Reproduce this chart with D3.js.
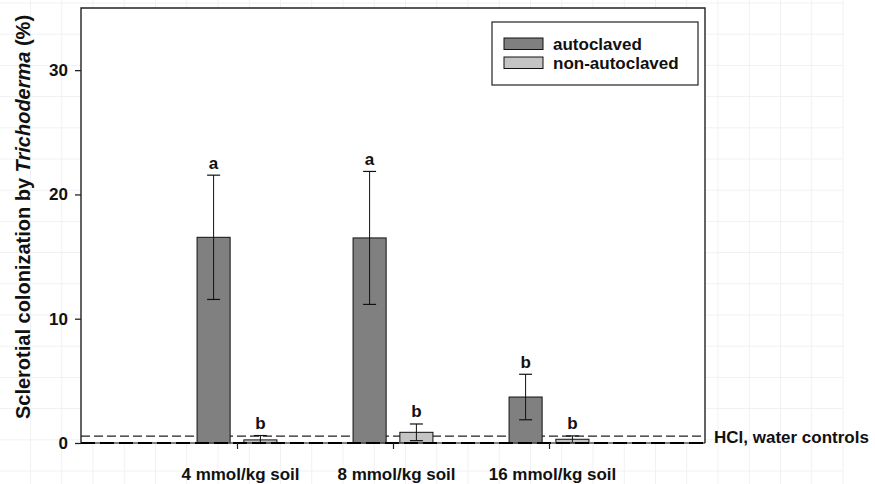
<!DOCTYPE html>
<html><head><meta charset="utf-8">
<script src="https://cdn.jsdelivr.net/npm/d3@7"></script>
<style>
html,body{margin:0;padding:0;background:#fff;}
svg{display:block;font-family:"Liberation Sans",Arial,sans-serif;}
</style></head>
<body>
<svg id="chart" width="875" height="484"></svg>
<script>
const categories = ["4 mmol/kg soil", "8 mmol/kg soil", "16 mmol/kg soil"];
const categoryPositions = [1, 2, 3];
const seriesNames = ["autoclaved", "non-autoclaved"];
const autoclaved = [16.55, 16.5, 3.7];
const autoclavedErr = [5.0, 5.35, 1.83];
const autoclavedLetters = ["a", "a", "b"];
const nonAutoclaved = [0.25, 0.86, 0.3];
const nonAutoclavedErr = [0.35, 0.67, 0.27];
const nonAutoclavedLetters = ["b", "b", "b"];
const yTicks = [0, 10, 20, 30];
const controlLevel = 0.55;
const controlLabel = "HCl, water controls";
const yLabelParts = ["Sclerotial colonization by ", "Trichoderma", " (%)"];

const W = 875, H = 484;
const L = 81, R = 705, T = 8, B = 443;
const svg = d3.select("#chart");

// faint background grid (spreadsheet look)
const bg = svg.append("g");
d3.range(30.5, 850, 31.25).forEach(gx => bg.append("line").attr("x1", gx).attr("x2", gx).attr("y1", 0).attr("y2", H).attr("stroke", "#f1f1f1"));
d3.range(3, H, 31.2).forEach(gy => bg.append("line").attr("x1", 0).attr("x2", 843).attr("y1", gy).attr("y2", gy).attr("stroke", "#f1f1f1"));

const x = d3.scaleLinear().domain([0, 4]).range([L, R]);
const y = d3.scaleLinear().domain([0, 35]).range([B, T]);
const unit = x(1) - x(0);
const barW = 0.212 * unit;
const off = 0.15 * unit;

svg.append("rect").attr("x", L).attr("y", T).attr("width", R - L).attr("height", B - T).attr("fill", "#fff");

const series = [
  {name: seriesNames[0], vals: autoclaved, err: autoclavedErr, letters: autoclavedLetters, fill: "#808080", dx: -off},
  {name: seriesNames[1], vals: nonAutoclaved, err: nonAutoclavedErr, letters: nonAutoclavedLetters, fill: "#c4c4c4", dx: off}
];

// control dashed line
svg.append("line").attr("x1", L).attr("x2", R).attr("y1", y(controlLevel)).attr("y2", y(controlLevel))
  .attr("stroke", "#222").attr("stroke-width", 1.2).attr("stroke-dasharray", "9,4");

series.forEach(s => {
  const g = svg.append("g");
  categoryPositions.forEach((p, i) => {
    const cx = x(p) + s.dx;
    g.append("rect").attr("x", cx - barW / 2).attr("y", y(s.vals[i]))
      .attr("width", barW).attr("height", y(0) - y(s.vals[i]))
      .attr("fill", s.fill).attr("stroke", "#111").attr("stroke-width", 1);
    const hi = s.vals[i] + s.err[i], lo = Math.max(0, s.vals[i] - s.err[i]);
    g.append("line").attr("x1", cx).attr("x2", cx).attr("y1", y(hi)).attr("y2", y(lo)).attr("stroke", "#111").attr("stroke-width", 1);
    g.append("line").attr("x1", cx - 6.5).attr("x2", cx + 6.5).attr("y1", y(hi)).attr("y2", y(hi)).attr("stroke", "#111").attr("stroke-width", 1.2);
    if (lo > 0) g.append("line").attr("x1", cx - 6.5).attr("x2", cx + 6.5).attr("y1", y(lo)).attr("y2", y(lo)).attr("stroke", "#111").attr("stroke-width", 1.2);
    g.append("text").attr("x", cx).attr("y", y(hi) - 6.5).attr("text-anchor", "middle")
      .attr("font-size", 17).attr("font-weight", "bold").attr("fill", "#111").text(s.letters[i]);
  });
});

// x axis baseline (solid + thick dashed overlay)
svg.append("line").attr("x1", L).attr("x2", R).attr("y1", y(0)).attr("y2", y(0)).attr("stroke", "#555").attr("stroke-width", 1.5);
svg.append("line").attr("x1", L).attr("x2", R).attr("y1", y(0)).attr("y2", y(0)).attr("stroke", "#000").attr("stroke-width", 2.2).attr("stroke-dasharray", "14,5");

// frame
svg.append("path").attr("d", `M${L},${B}V${T}H${R}V${B}`).attr("fill", "none").attr("stroke", "#222").attr("stroke-width", 1.4);

// y axis
const ya = svg.append("g").attr("transform", `translate(${L},0)`)
  .call(d3.axisLeft(y).tickValues(yTicks).tickSize(6).tickPadding(7).tickSizeOuter(0));
ya.select(".domain").remove();
ya.selectAll("line").attr("stroke", "#222").attr("stroke-width", 1.3);
ya.selectAll("text").attr("font-size", 17).attr("font-weight", "bold").attr("fill", "#111")
  .attr("font-family", "Liberation Sans, Arial, sans-serif");

// x axis
const xa = svg.append("g").attr("transform", `translate(0,${B})`)
  .call(d3.axisBottom(x).tickValues(categoryPositions).tickSize(6).tickSizeOuter(0)
    .tickFormat((d, i) => categories[i]));
xa.select(".domain").remove();
xa.selectAll("line").attr("stroke", "#222").attr("stroke-width", 1.2);
xa.selectAll("text").attr("font-size", 17).attr("font-weight", "bold").attr("fill", "#111")
  .attr("font-family", "Liberation Sans, Arial, sans-serif")
  .attr("y", 37).attr("dy", 0).attr("dx", 3);

// control label
svg.append("text").attr("x", 714).attr("y", y(controlLevel) + 6.5).attr("font-size", 17).attr("font-weight", "bold")
  .attr("fill", "#111").text(controlLabel);

// y label
const yl = svg.append("text").attr("transform", `translate(30,217) rotate(-90)`).attr("text-anchor", "middle")
  .attr("font-size", 20).attr("font-weight", "bold").attr("fill", "#111");
yl.append("tspan").text(yLabelParts[0]);
yl.append("tspan").attr("font-style", "italic").text(yLabelParts[1]);
yl.append("tspan").text(yLabelParts[2]);

// legend
const lg = svg.append("g");
lg.append("rect").attr("x", 492).attr("y", 22).attr("width", 206).attr("height", 63).attr("fill", "#fff").attr("stroke", "#222").attr("stroke-width", 1.2);
series.forEach((s, i) => {
  lg.append("rect").attr("x", 504).attr("y", 38 + i * 19).attr("width", 39).attr("height", 11.5)
    .attr("fill", s.fill).attr("stroke", "#111").attr("stroke-width", 1);
  lg.append("text").attr("x", 553).attr("y", 49.5 + i * 19).attr("font-size", 17).attr("font-weight", "bold")
    .attr("fill", "#111").text(s.name);
});
</script>
</body></html>
